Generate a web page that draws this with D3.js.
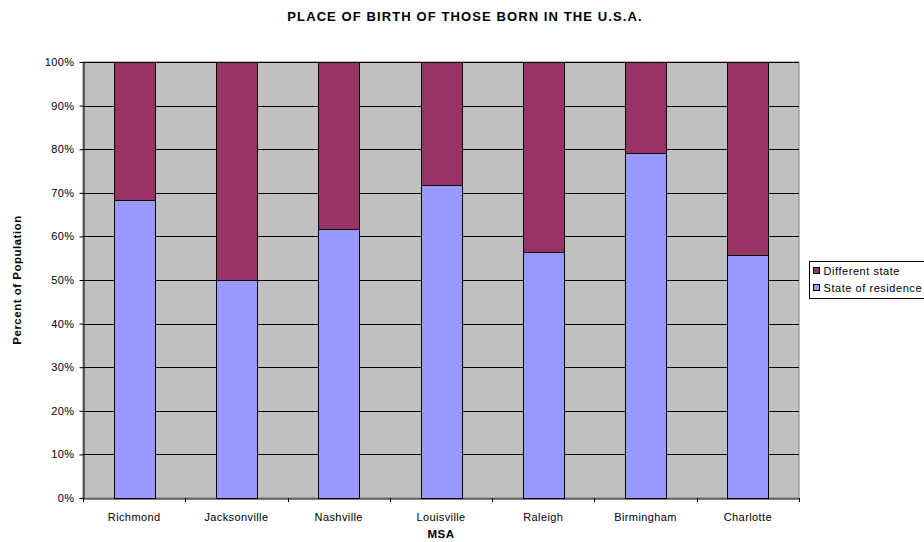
<!DOCTYPE html>
<html>
<head>
<meta charset="utf-8">
<script src="https://cdnjs.cloudflare.com/ajax/libs/d3/7.8.5/d3.min.js"></script>
<style>
  body { margin: 0; background: #fff; }
  text { font-family: Arial, "Liberation Sans", sans-serif; }
</style>
</head>
<body>
<svg width="924" height="542"></svg>
<script>
// data
var categories = ["Richmond", "Jacksonville", "Nashville", "Louisville", "Raleigh", "Birmingham", "Charlotte"];
var stateOfResidence = [68.3, 50.0, 61.7, 71.8, 56.4, 79.1, 55.8];
var differentState = [31.7, 50.0, 38.3, 28.2, 43.6, 20.9, 44.2];
var seriesNames = ["State of residence", "Different state"];
var seriesColors = ["#9999ff", "#993366"];
var yTicks = [0, 10, 20, 30, 40, 50, 60, 70, 80, 90, 100];

var svg = d3.select("svg"),
    margin = {top: 62, left: 83, right: 125, bottom: 44},
    width = +svg.attr("width") - margin.left - margin.right,
    height = +svg.attr("height") - margin.top - margin.bottom;

var rows = categories.map(function(c, i) {
    return {cat: c, res: stateOfResidence[i], diff: differentState[i]};
});

var x = d3.scaleBand().domain(categories).range([0, width]).paddingInner(0.6).paddingOuter(0.3),
    xTick = d3.scaleBand().domain(categories).range([0, width]),
    y = d3.scaleLinear().domain([0, 100]).range([height, 0]);

var g = svg.append("g")
    .attr("transform", "translate(" + margin.left + "," + margin.top + ")");

// plot background
g.append("rect")
    .attr("width", width).attr("height", height)
    .attr("fill", "#c0c0c0").attr("stroke", "#808080");

// gridlines
g.selectAll(".grid")
    .data(yTicks.slice(1))
    .enter().append("line")
    .attr("x1", 0).attr("x2", width)
    .attr("y1", function(d) { return Math.round(y(d)) + 0.5; })
    .attr("y2", function(d) { return Math.round(y(d)) + 0.5; })
    .attr("stroke", "#000").attr("stroke-width", 1);

var stack = d3.stack().keys(["res", "diff"])(rows);

g.selectAll(".series")
    .data(stack)
    .enter().append("g")
    .attr("fill", function(d, i) { return seriesColors[i]; })
    .selectAll("rect")
    .data(function(d) { return d; })
    .enter().append("rect")
    .attr("x", function(d) { return Math.round(x(d.data.cat)) + 0.5; })
    .attr("y", function(d) { return Math.round(y(d[1])) + 0.5; })
    .attr("width", Math.round(x.bandwidth()))
    .attr("height", function(d) { return Math.round(y(d[0])) - Math.round(y(d[1])); })
    .attr("stroke", "#000").attr("stroke-width", 1);

// axes
var yAxis = g.append("g")
    .attr("transform", "translate(0.5,0)")
    .call(d3.axisLeft(y).tickValues(yTicks).tickSize(4).tickSizeOuter(0).tickFormat(function(d) { return d + "%"; }));
yAxis.selectAll("text").attr("font-size", 11).attr("letter-spacing", 0.4).attr("fill", "#000").attr("dx", "-2");
yAxis.selectAll("line, path").attr("stroke", "#000");

var xAxis = g.append("g")
    .attr("transform", "translate(0," + (height + 0.5) + ")")
    .call(d3.axisBottom(xTick).tickSize(0).tickSizeOuter(0));
xAxis.selectAll("text").attr("font-size", 11).attr("letter-spacing", 0.4).attr("fill", "#000").attr("dy", "1.75em");
xAxis.select(".domain").attr("stroke", "#000");

// tick marks between categories
g.selectAll(".xtick")
    .data(categories)
    .enter().append("line")
    .attr("x1", function(d, i) { return Math.round(xTick.step() * (i + 1)) + 0.5; })
    .attr("x2", function(d, i) { return Math.round(xTick.step() * (i + 1)) + 0.5; })
    .attr("y1", height).attr("y2", height + 4)
    .attr("stroke", "#000");
g.append("line")
    .attr("x1", 0.5).attr("x2", 0.5).attr("y1", height).attr("y2", height + 4).attr("stroke", "#000");

// titles
svg.append("text")
    .attr("x", 465).attr("y", 21)
    .attr("text-anchor", "middle")
    .attr("font-size", 13).attr("font-weight", "bold").attr("letter-spacing", 1.1)
    .text("PLACE OF BIRTH OF THOSE BORN IN THE U.S.A.");

svg.append("text")
    .attr("x", margin.left + width / 2).attr("y", 538)
    .attr("text-anchor", "middle")
    .attr("font-size", 11.5).attr("font-weight", "bold").attr("letter-spacing", 0.5)
    .text("MSA");

svg.append("text")
    .attr("transform", "translate(21," + (margin.top + height / 2) + ") rotate(-90)")
    .attr("text-anchor", "middle")
    .attr("font-size", 11.5).attr("font-weight", "bold").attr("letter-spacing", 0.5)
    .text("Percent of Population");

// legend
var legend = svg.append("g").attr("transform", "translate(809.5,261.5)");
legend.append("rect")
    .attr("width", 116).attr("height", 37)
    .attr("fill", "#fff").attr("stroke", "#000");
var legendItems = [1, 0];
legend.selectAll(".item")
    .data(legendItems)
    .enter().append("g")
    .attr("transform", function(d, i) { return "translate(4," + (13 + i * 17) + ")"; })
    .each(function(d) {
        var it = d3.select(this);
        it.append("rect").attr("y", -7).attr("width", 6).attr("height", 6)
            .attr("fill", seriesColors[d]).attr("stroke", "#000");
        it.append("text").attr("x", 10).attr("y", 0)
            .attr("font-size", 11).attr("letter-spacing", 0.55).attr("fill", "#000")
            .text(seriesNames[d]);
    });
</script>
</body>
</html>
